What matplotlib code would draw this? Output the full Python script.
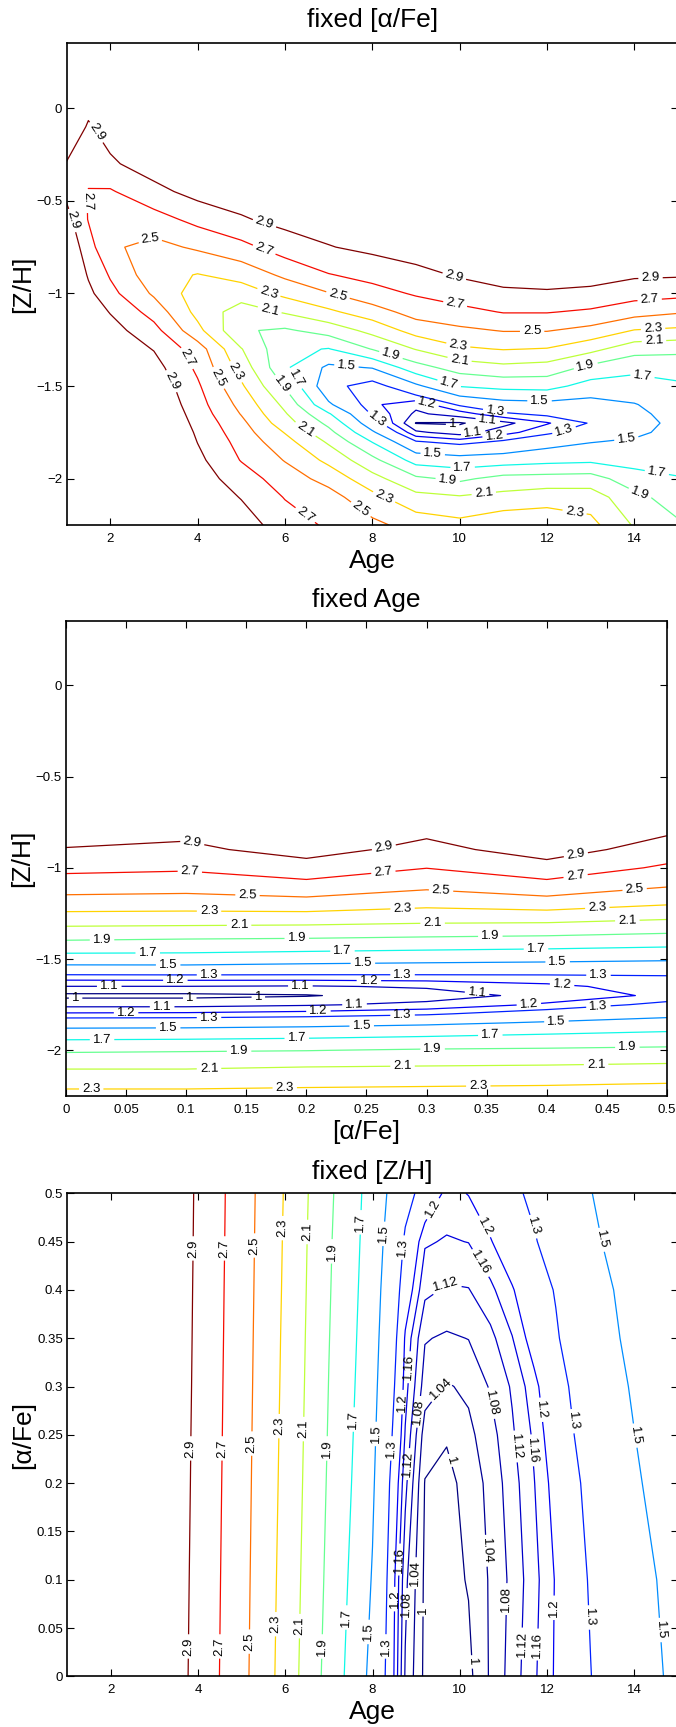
import matplotlib
matplotlib.use("Agg")
import matplotlib.pyplot as plt
from matplotlib.colors import Normalize
from matplotlib.ticker import FixedLocator, FuncFormatter

plt.rcParams["font.family"] = ["Liberation Sans", "DejaVu Sans"]

# ---------- panel 1: fixed [alpha/Fe] (Age vs [Z/H]) ----------
age_1 = [1, 1.5, 2, 3, 4, 5, 6, 7, 8, 9, 10, 11, 12, 13, 14, 15]
zh_1 = [-2.25, -2.1, -2.0, -1.9, -1.8, -1.75, -1.7, -1.65, -1.6, -1.5, -1.4,
        -1.3, -1.2, -1.1, -1.0, -0.9, -0.75, -0.6, -0.45, -0.3, -0.1, 0.1, 0.35]
chi_1 = [
    [4.0, 3.7, 3.6, 3.45, 3.12, 3.0, 2.8, 2.67, 2.55, 2.42, 2.36, 2.45, 2.45, 2.36, 2.08, 1.93],
    [3.9, 3.62, 3.5, 3.38, 3.05, 2.89, 2.69, 2.58, 2.36, 2.16, 2.12, 2.16, 2.21, 2.2, 1.96, 1.80],
    [3.85, 3.55, 3.44, 3.33, 3.0, 2.8, 2.6, 2.43, 2.17, 1.94, 1.86, 1.97, 1.98, 1.99, 1.78, 1.71],
    [3.8, 3.48, 3.38, 3.28, 2.95, 2.69, 2.49, 2.25, 1.96, 1.62, 1.58, 1.60, 1.64, 1.66, 1.63, 1.64],
    [3.7, 3.42, 3.32, 3.22, 2.895, 2.63, 2.37, 2.07, 1.69, 1.31, 1.25, 1.32, 1.42, 1.49, 1.53, 1.6],
    [3.65, 3.39, 3.29, 3.19, 2.87, 2.59, 2.29, 1.96, 1.53, 1.12, 1.05, 1.16, 1.27, 1.38, 1.45, 1.58],
    [3.6, 3.36, 3.26, 3.16, 2.84, 2.55, 2.19, 1.85, 1.38, 0.995, 0.99, 1.067, 1.19, 1.31, 1.40, 1.57],
    [3.55, 3.33, 3.23, 3.13, 2.81, 2.49, 2.12, 1.72, 1.28, 1.08, 1.15, 1.28, 1.33, 1.37, 1.45, 1.58],
    [3.5, 3.3, 3.2, 3.1, 2.78, 2.44, 2.05, 1.53, 1.22, 1.13, 1.32, 1.42, 1.44, 1.43, 1.49, 1.6],
    [3.45, 3.25, 3.15, 3.05, 2.73, 2.33, 1.88, 1.36, 1.22, 1.46, 1.71, 1.76, 1.77, 1.62, 1.62, 1.67],
    [3.4, 3.2, 3.1, 2.98, 2.66, 2.22, 1.73, 1.46, 1.51, 1.82, 1.99, 2.05, 2.02, 1.85, 1.75, 1.78],
    [3.35, 3.15, 3.05, 2.89, 2.6, 2.11, 1.75, 1.69, 1.91, 2.11, 2.27, 2.31, 2.29, 2.16, 1.98, 1.95],
    [3.3, 3.1, 2.98, 2.77, 2.36, 1.92, 1.87, 1.98, 2.16, 2.38, 2.46, 2.51, 2.51, 2.44, 2.29, 2.26],
    [3.25, 3.02, 2.89, 2.62, 2.24, 2.0, 2.12, 2.26, 2.41, 2.58, 2.64, 2.71, 2.71, 2.67, 2.58, 2.52],
    [3.2, 2.95, 2.76, 2.47, 2.2, 2.2, 2.35, 2.49, 2.63, 2.72, 2.8, 2.86, 2.87, 2.85, 2.78, 2.76],
    [3.15, 2.88, 2.68, 2.38, 2.29, 2.37, 2.54, 2.69, 2.76, 2.84, 2.92, 2.98, 3.01, 2.98, 2.93, 2.92],
    [3.08, 2.78, 2.53, 2.44, 2.53, 2.64, 2.8, 2.89, 2.95, 3.0, 3.08, 3.13, 3.17, 3.15, 3.12, 3.1],
    [2.975, 2.69, 2.57, 2.62, 2.76, 2.88, 2.96, 3.0, 3.1, 3.13, 3.2, 3.25, 3.3, 3.28, 3.25, 3.22],
    [2.85, 2.69, 2.68, 2.84, 2.97, 3.0, 3.04, 3.09, 3.2, 3.25, 3.32, 3.37, 3.42, 3.4, 3.37, 3.34],
    [2.89, 2.78, 2.87, 3.0, 3.05, 3.08, 3.12, 3.17, 3.3, 3.36, 3.42, 3.47, 3.52, 3.5, 3.48, 3.45],
    [3.05, 2.88, 2.98, 3.1, 3.18, 3.2, 3.25, 3.3, 3.45, 3.5, 3.55, 3.6, 3.65, 3.63, 3.62, 3.6],
    [3.25, 3.0, 3.12, 3.25, 3.32, 3.4, 3.42, 3.5, 3.6, 3.65, 3.7, 3.75, 3.8, 3.8, 3.8, 3.8],
    [3.5, 3.2, 3.3, 3.4, 3.5, 3.6, 3.6, 3.7, 3.8, 3.85, 3.9, 3.95, 4.0, 4.0, 4.0, 4.0],
]
levels_1 = [1, 1.1, 1.2, 1.3, 1.5, 1.7, 1.9, 2.1, 2.3, 2.5, 2.7, 2.9]

# ---------- panel 2: fixed Age ([alpha/Fe] vs [Z/H]) ----------
afe_2 = [0, 0.1, 0.2, 0.3, 0.4, 0.5]
zh_2 = [-2.25, -2.1, -2.0, -1.9, -1.85, -1.8, -1.75, -1.7, -1.65, -1.6, -1.55,
        -1.5, -1.4, -1.3, -1.2, -1.1, -1.0, -0.9, -0.75, -0.5, 0.0, 0.35]
chi_2 = [
    [2.37, 2.37, 2.38, 2.39, 2.4, 2.42],
    [2.095, 2.095, 2.12, 2.13, 2.14, 2.16],
    [1.874, 1.885, 1.895, 1.92, 1.93, 1.945],
    [1.573, 1.58, 1.6, 1.63, 1.67, 1.707],
    [1.402, 1.407, 1.427, 1.464, 1.52, 1.57],
    [1.215, 1.22, 1.24, 1.28, 1.371, 1.45],
    [1.065, 1.065, 1.0875, 1.125, 1.217, 1.338],
    [0.975, 0.975, 0.992, 1.052, 1.13, 1.225],
    [1.098, 1.098, 1.09, 1.113, 1.174, 1.25],
    [1.246, 1.25, 1.252, 1.257, 1.263, 1.28],
    [1.437, 1.44, 1.422, 1.41, 1.404, 1.396],
    [1.61, 1.61, 1.583, 1.562, 1.545, 1.523],
    [1.892, 1.874, 1.863, 1.843, 1.823, 1.791],
    [2.153, 2.145, 2.136, 2.11, 2.102, 2.058],
    [2.399, 2.391, 2.41, 2.345, 2.393, 2.308],
    [2.592, 2.574, 2.635, 2.54, 2.632, 2.511],
    [2.75, 2.728, 2.815, 2.704, 2.821, 2.671],
    [2.888, 2.856, 2.98, 2.835, 2.996, 2.804],
    [3.05, 3.0, 3.15, 3.0, 3.15, 2.994],
    [3.3, 3.3, 3.4, 3.25, 3.4, 3.25],
    [3.8, 3.8, 3.9, 3.75, 3.9, 3.75],
    [4.1, 4.1, 4.2, 4.05, 4.2, 4.05],
]
levels_2 = [1, 1.1, 1.2, 1.3, 1.5, 1.7, 1.9, 2.1, 2.3, 2.5, 2.7, 2.9]

# ---------- panel 3: fixed [Z/H] (Age vs [alpha/Fe]) ----------
age_3 = [1, 2, 3, 4, 5, 6, 7, 7.5, 8, 8.5, 8.75, 9.2, 9.7, 10.2, 10.7, 11.2,
         11.7, 12.2, 13, 14, 15]
afe_3 = [0, 0.1, 0.2, 0.25, 0.3, 0.35, 0.4, 0.45, 0.5]
chi_3 = [
    [3.6, 3.35, 3.11, 2.839, 2.557, 2.22, 1.832, 1.644, 1.445, 1.195, 1.075,
     0.99, 0.985, 0.989, 1.045, 1.098, 1.153, 1.206, 1.298, 1.42, 1.54],
    [3.61, 3.36, 3.12, 2.845, 2.565, 2.233, 1.856, 1.676, 1.4875, 1.205, 1.091,
     0.992, 0.985, 1.003, 1.045, 1.091, 1.146, 1.204, 1.31, 1.437, 1.56],
    [3.62, 3.37, 3.13, 2.852, 2.573, 2.247, 1.877, 1.707, 1.524, 1.238, 1.132,
     0.998, 0.988, 1.014, 1.053, 1.102, 1.158, 1.221, 1.332, 1.478, 1.6],
    [3.62, 3.37, 3.13, 2.856, 2.577, 2.253, 1.887, 1.721, 1.54, 1.273, 1.156,
     1.02, 1.004, 1.03, 1.064, 1.114, 1.167, 1.239, 1.355, 1.498, 1.62],
    [3.63, 3.38, 3.14, 2.859, 2.581, 2.26, 1.896, 1.735, 1.556, 1.302, 1.176,
     1.06, 1.036, 1.048, 1.084, 1.125, 1.184, 1.257, 1.374, 1.52, 1.63],
    [3.63, 3.38, 3.14, 2.863, 2.585, 2.266, 1.905, 1.748, 1.572, 1.328, 1.192,
     1.083, 1.074, 1.081, 1.108, 1.158, 1.225, 1.288, 1.404, 1.547, 1.645],
    [3.64, 3.39, 3.145, 2.866, 2.589, 2.273, 1.914, 1.76, 1.588, 1.356, 1.24,
     1.13, 1.115, 1.118, 1.15, 1.195, 1.25, 1.307, 1.426, 1.567, 1.66],
    [3.64, 3.39, 3.145, 2.87, 2.593, 2.279, 1.922, 1.771, 1.604, 1.391, 1.281,
     1.165, 1.156, 1.161, 1.196, 1.243, 1.29, 1.355, 1.466, 1.6, 1.675],
    [3.65, 3.4, 3.15, 2.873, 2.597, 2.286, 1.934, 1.782, 1.62, 1.437, 1.344,
     1.254, 1.185, 1.202, 1.239, 1.276, 1.324, 1.389, 1.495, 1.63, 1.69],
]
levels_3 = [1, 1.04, 1.08, 1.12, 1.16, 1.2, 1.3, 1.5, 1.7, 1.9, 2.1, 2.3, 2.5, 2.7, 2.9]

# label anchor points, per level
labels_1 = {
    2.9: [(1.62, -0.14), (1.07, -0.61), (3.31, -1.485), (5.52, -0.63), (9.87, -0.914), (14.37, -0.914)],
    2.7: [(1.53, -0.50), (3.76, -1.35), (6.47, -2.195), (5.52, -0.767), (9.9, -1.054), (14.35, -1.033)],
    2.5: [(2.92, -0.707), (4.54, -1.449), (7.72, -2.171), (7.2, -1.022), (11.66, -1.207)],
    2.3: [(5.63, -0.997), (4.89, -1.422), (8.25, -2.11), (9.97, -1.279), (12.65, -2.153), (14.43, -1.194)],
    2.1: [(5.65, -1.09), (6.47, -1.733), (10.0, -1.356), (10.56, -2.096), (14.45, -1.261)],
    1.9: [(5.94, -1.494), (8.42, -1.338), (9.72, -2.019), (12.9, -1.404), (14.1, -2.096)],
    1.7: [(6.28, -1.453), (9.75, -1.494), (10.07, -1.948), (14.2, -1.422), (14.51, -1.974)],
    1.5: [(7.41, -1.386), (9.38, -1.88), (11.83, -1.575), (13.82, -1.79)],
    1.3: [(8.1, -1.683), (10.81, -1.638), (12.4, -1.746)],
    1.2: [(9.23, -1.611), (10.81, -1.79)],
    1.1: [(10.64, -1.692), (10.32, -1.772)],
    1: [(9.84, -1.704)],
}
labels_2 = {
    2.9: [(0.105, -0.864), (0.264, -0.874), (0.424, -0.921)],
    2.7: [(0.103, -1.022), (0.264, -1.022), (0.424, -1.047)],
    2.5: [(0.151, -1.15), (0.312, -1.128), (0.473, -1.113)],
    2.3: [(0.119, -1.241), (0.28, -1.225), (0.442, -1.221), (0.021, -2.213), (0.182, -2.213), (0.343, -2.2)],
    2.1: [(0.144, -1.32), (0.305, -1.302), (0.467, -1.289), (0.119, -2.101), (0.28, -2.095), (0.441, -2.079)],
    1.9: [(0.03, -1.401), (0.192, -1.383), (0.353, -1.366), (0.144, -2.01), (0.305, -1.998), (0.467, -1.978)],
    1.7: [(0.068, -1.472), (0.23, -1.453), (0.391, -1.443), (0.03, -1.943), (0.192, -1.937), (0.353, -1.919)],
    1.5: [(0.085, -1.528), (0.247, -1.518), (0.409, -1.508), (0.085, -1.877), (0.246, -1.862), (0.408, -1.842)],
    1.3: [(0.119, -1.585), (0.28, -1.575), (0.443, -1.579), (0.119, -1.828), (0.28, -1.802), (0.443, -1.767)],
    1.2: [(0.091, -1.613), (0.252, -1.605), (0.413, -1.613), (0.05, -1.796), (0.21, -1.775), (0.385, -1.741)],
    1.1: [(0.036, -1.652), (0.195, -1.646), (0.342, -1.686), (0.08, -1.761), (0.24, -1.741)],
    1: [(0.008, -1.705), (0.103, -1.721), (0.16, -1.705)],
}
labels_3 = {
    2.9: [(3.87, 0.443), (3.83, 0.236), (3.77, 0.031)],
    2.7: [(4.61, 0.443), (4.57, 0.236), (4.52, 0.031)],
    2.5: [(5.32, 0.446), (5.27, 0.241), (5.19, 0.036)],
    2.3: [(5.94, 0.464), (5.88, 0.259), (5.8, 0.054)],
    2.1: [(6.5, 0.46), (6.43, 0.256), (6.36, 0.052)],
    1.9: [(7.05, 0.44), (6.92, 0.236), (6.82, 0.031)],
    1.7: [(7.74, 0.47), (7.51, 0.266), (7.37, 0.061)],
    1.5: [(8.29, 0.458), (8.04, 0.251), (7.91, 0.046), (13.26, 0.452), (13.98, 0.249), (14.59, 0.048)],
    1.3: [(8.67, 0.444), (8.43, 0.236), (8.31, 0.031), (11.72, 0.466), (12.56, 0.264), (12.96, 0.061)],
    1.2: [(9.35, 0.485), (8.63, 0.284), (8.48, 0.08), (10.58, 0.466), (11.87, 0.276), (12.2, 0.071)],
    1.16: [(8.85, 0.32), (8.6, 0.121), (10.44, 0.427), (11.67, 0.234), (11.77, 0.033)],
    1.12: [(9.64, 0.408), (8.75, 0.22), (11.28, 0.238), (11.43, 0.034)],
    1.08: [(9.03, 0.274), (8.72, 0.075), (10.63, 0.282), (11.11, 0.08)],
    1.04: [(9.5, 0.3), (8.9, 0.107), (10.58, 0.13)],
    1: [(9.82, 0.224), (9.03, 0.069), (10.29, 0.015)],
}

cmap = plt.get_cmap("jet")
norm = Normalize(1, 2.9)


def fmt_tick(v, _pos):
    return f"{round(v, 6) + 0:g}".replace("-", "\u2212")


def draw_panel(ax, x, y, z, levels, label_pos, title, xlabel, ylabel, title_pad):
    # one contour set per level so labels can be pinned to their own line
    for lev in levels:
        cs = ax.contour(x, y, z, levels=[lev], colors=[cmap(norm(lev))],
                        linewidths=0.9)
        pts = label_pos.get(lev)
        if pts:
            ax.clabel(cs, manual=pts, fmt="%g", colors="k", fontsize=9.5,
                      inline=True, inline_spacing=3)
    ax.set_title(title, fontsize=19, pad=title_pad)
    ax.set_xlabel(xlabel, fontsize=19, labelpad=3)
    ax.set_ylabel(ylabel, fontsize=19, labelpad=1)
    ax.tick_params(direction="in", top=True, right=True, length=5, width=0.8,
                   labelsize=9.5)
    ax.tick_params(axis="x", pad=5.5)
    ax.tick_params(axis="y", pad=3)
    ax.xaxis.set_major_formatter(FuncFormatter(fmt_tick))
    ax.yaxis.set_major_formatter(FuncFormatter(fmt_tick))
    for sp in ax.spines.values():
        sp.set_linewidth(1.2)


fig = plt.figure(figsize=(6.76, 17.27), dpi=100)

ax1 = fig.add_axes([0.0984, 0.6960, 0.9046, 0.2789])
draw_panel(ax1, age_1, zh_1, chi_1, levels_1, labels_1,
           "fixed [\u03b1/Fe]", "Age", "[Z/H]", 12)
ax1.set_xlim(1, 15)
ax1.set_ylim(-2.25, 0.35)
ax1.xaxis.set_major_locator(FixedLocator([2, 4, 6, 8, 10, 12, 14]))
ax1.yaxis.set_major_locator(FixedLocator([-2, -1.5, -1, -0.5, 0]))

ax2 = fig.add_axes([0.0976, 0.3654, 0.8891, 0.2748])
draw_panel(ax2, afe_2, zh_2, chi_2, levels_2, labels_2,
           "fixed Age", "[\u03b1/Fe]", "[Z/H]", 10)
ax2.set_xlim(0, 0.5)
ax2.set_ylim(-2.25, 0.35)
ax2.xaxis.set_major_locator(FixedLocator([0, 0.05, 0.1, 0.15, 0.2, 0.25, 0.3, 0.35, 0.4, 0.45, 0.5]))
ax2.yaxis.set_major_locator(FixedLocator([-2, -1.5, -1, -0.5, 0]))

ax3 = fig.add_axes([0.0991, 0.0293, 0.9039, 0.2797])
draw_panel(ax3, age_3, afe_3, chi_3, levels_3, labels_3,
           "fixed [Z/H]", "Age", "[\u03b1/Fe]", 10)
ax3.set_xlim(1, 15)
ax3.set_ylim(0, 0.5)
ax3.xaxis.set_major_locator(FixedLocator([2, 4, 6, 8, 10, 12, 14]))
ax3.yaxis.set_major_locator(FixedLocator([0, 0.05, 0.1, 0.15, 0.2, 0.25, 0.3, 0.35, 0.4, 0.45, 0.5]))

fig.savefig("out.png", dpi=100)
plt.close(fig)
